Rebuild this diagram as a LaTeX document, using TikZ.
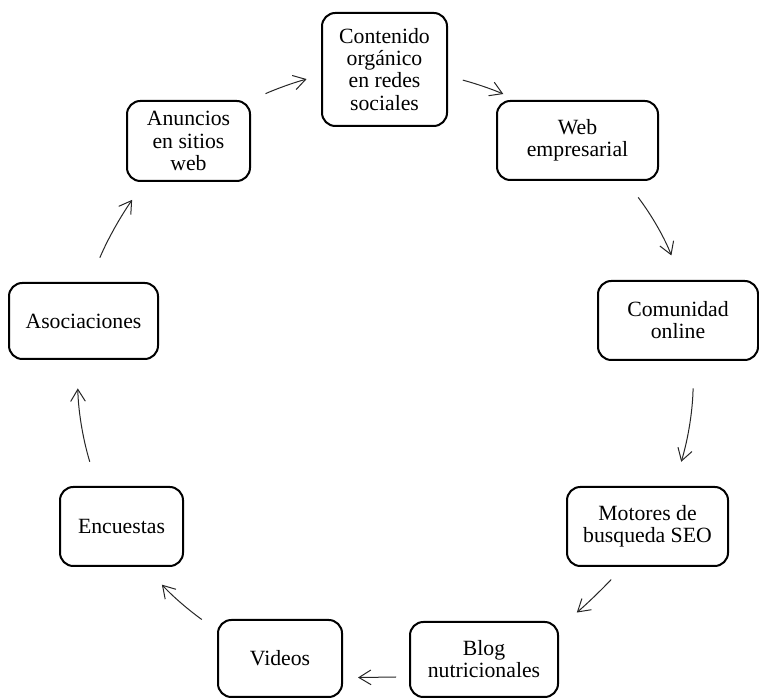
\documentclass[tikz,border=0pt]{standalone}
\usepackage{fontspec}
\setmainfont{Liberation Serif}
\usetikzlibrary{arrows.meta}

\tikzset{
caja/.style={draw, line width=1.5pt, rounded corners=10pt, align=center, inner sep=2pt,
  font=\fontsize{16.3}{16.6}\selectfont},
flecha/.style={line width=0.75pt, black!85, -{Straight Barb[length=9pt,width=11pt]}}
}

\begin{document}
\begin{tikzpicture}[x=0.75pt,y=0.75pt]

\useasboundingbox (0,0) rectangle (759,698);

\node[caja, minimum width=93.75pt, minimum height=84.75pt] (cont) at (384.5,628.5) {Contenido\\org\'anico\\en redes\\sociales};
\node[caja, minimum width=120.75pt, minimum height=59.25pt] (web) at (577.5,557.5) {Web\\empresarial};
\node[caja, minimum width=120pt, minimum height=59.25pt] (com) at (678,377.5) {Comunidad\\online};
\node[caja, minimum width=120.75pt, minimum height=59.25pt] (mot) at (647.5,171.5) {Motores de\\busqueda SEO};
\node[caja, minimum width=111pt, minimum height=56.25pt] (blog) at (484,38.5) {Blog\\nutricionales};
\node[caja, minimum width=93pt, minimum height=57.75pt] (vid) at (280,39.5) {Videos};
\node[caja, minimum width=92.25pt, minimum height=59.25pt] (enc) at (121.5,171.5) {Encuestas};
\node[caja, minimum width=111.75pt, minimum height=57pt] (aso) at (83.5,377) {Asociaciones};
\node[caja, minimum width=92.25pt, minimum height=60pt] (anun) at (188.5,557) {Anuncios\\en sitios\\web};


\draw[flecha, shorten <=11.9pt, shorten >=11.2pt] (anun.north east) to[bend left=4] (cont.185);
\draw[flecha, shorten <=11.5pt, shorten >=11.5pt] (cont.-6) to[bend left=4] (web.146);
\draw[flecha, shorten <=15.4pt, shorten >=19.7pt] (web.-40) to[bend left=8] (com.86);
\draw[flecha, shorten <=20.5pt, shorten >=19pt] (com.-69) to[bend left=8] (mot.57);
\draw[flecha, shorten <=13pt, shorten >=17.5pt] (mot.-121) to[bend left=3] (blog.23);
\draw[flecha, shorten <=9.75pt, shorten >=11.25pt] (blog.193) -- (vid.-17);
\draw[flecha, shorten <=14pt, shorten >=17.9pt] (vid.156) to[bend left=6] (enc.-59);
\draw[flecha, shorten <=19pt, shorten >=21.3pt] (enc.121) to[bend left=8] (aso.-99);
\draw[flecha, shorten <=19.7pt, shorten >=16.3pt] (aso.81) to[bend left=6] (anun.-137);

\end{tikzpicture}
\end{document}
